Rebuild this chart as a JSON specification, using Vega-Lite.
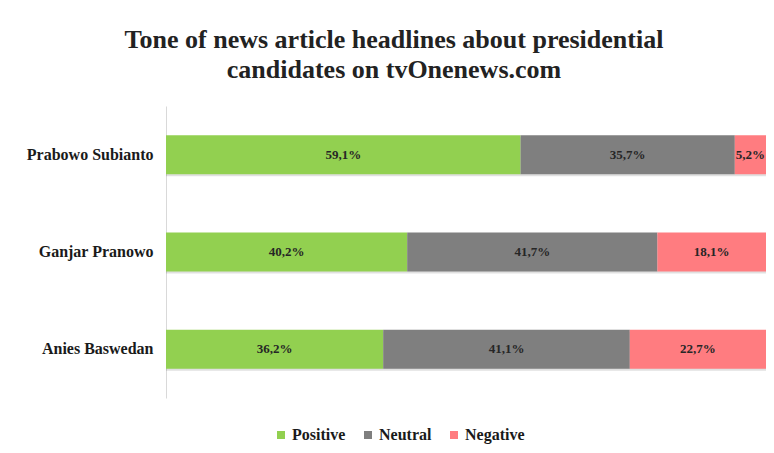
{
  "$schema": "https://vega.github.io/schema/vega-lite/v6.json",
  "width": 600,
  "height": 292,
  "autosize": {"type": "none"},
  "padding": {"left": 166, "top": 106, "right": 8, "bottom": 55},
  "background": "white",
  "config": {"view": {"stroke": null}, "font": "Liberation Serif"},
  "title": {
    "text": ["Tone of news article headlines about presidential", "candidates on tvOnenews.com"],
    "font": "Liberation Serif",
    "fontSize": 26,
    "fontWeight": "bold",
    "color": "#222222",
    "anchor": "middle",
    "dx": -72,
    "offset": 23,
    "lineHeight": 30
  },
  "data": {
    "values": [
      {"candidate": "Prabowo Subianto", "tone": "Positive", "value": 59.1, "label": "59,1%", "order": 1},
      {"candidate": "Prabowo Subianto", "tone": "Neutral", "value": 35.7, "label": "35,7%", "order": 2},
      {"candidate": "Prabowo Subianto", "tone": "Negative", "value": 5.2, "label": "5,2%", "order": 3},
      {"candidate": "Ganjar Pranowo", "tone": "Positive", "value": 40.2, "label": "40,2%", "order": 1},
      {"candidate": "Ganjar Pranowo", "tone": "Neutral", "value": 41.7, "label": "41,7%", "order": 2},
      {"candidate": "Ganjar Pranowo", "tone": "Negative", "value": 18.1, "label": "18,1%", "order": 3},
      {"candidate": "Anies Baswedan", "tone": "Positive", "value": 36.2, "label": "36,2%", "order": 1},
      {"candidate": "Anies Baswedan", "tone": "Neutral", "value": 41.1, "label": "41,1%", "order": 2},
      {"candidate": "Anies Baswedan", "tone": "Negative", "value": 22.7, "label": "22,7%", "order": 3}
    ]
  },
  "transform": [
    {"stack": "value", "groupby": ["candidate"], "sort": [{"field": "order"}], "as": ["x0", "x1"]},
    {"calculate": "(datum.x0 + datum.x1) / 2", "as": "mid"}
  ],
  "encoding": {
    "y": {
      "field": "candidate",
      "type": "nominal",
      "sort": ["Prabowo Subianto", "Ganjar Pranowo", "Anies Baswedan"],
      "scale": {"paddingInner": 0.6, "paddingOuter": 0.3},
      "axis": {
        "title": null,
        "ticks": false,
        "domainColor": "#d9d9d9",
        "domainWidth": 1,
        "labelFont": "Liberation Serif",
        "labelFontSize": 16,
        "labelFontWeight": "bold",
        "labelColor": "#1a1a1a",
        "labelPadding": 13,
        "grid": false
      }
    }
  },
  "layer": [
    {
      "mark": {"type": "bar", "color": "#000000", "opacity": 0.12, "yOffset": 2},
      "encoding": {
        "x": {"field": "x0", "type": "quantitative", "scale": {"domain": [0, 100], "nice": false}, "axis": null},
        "x2": {"field": "x1"}
      }
    },
    {
      "mark": {"type": "bar"},
      "encoding": {
        "x": {"field": "x0", "type": "quantitative", "scale": {"domain": [0, 100], "nice": false}, "axis": null},
        "x2": {"field": "x1"},
        "color": {
          "field": "tone",
          "type": "nominal",
          "scale": {"domain": ["Positive", "Neutral", "Negative"], "range": ["#92D050", "#7F7F7F", "#FF7C80"]},
          "legend": {
            "orient": "none",
            "legendX": 107,
            "legendY": 321,
            "direction": "horizontal",
            "title": null,
            "symbolType": "square",
            "symbolSize": 64,
            "symbolStrokeWidth": 0,
            "labelFont": "Liberation Serif",
            "labelFontSize": 16,
            "labelFontWeight": "bold",
            "labelColor": "#1a1a1a",
            "labelOffset": 3,
            "columnPadding": 14,
            "padding": 0
          }
        }
      }
    },
    {
      "mark": {"type": "text", "font": "Liberation Serif", "fontSize": 13, "fontWeight": "bold", "color": "#262626", "align": "center", "baseline": "middle"},
      "encoding": {
        "x": {"field": "mid", "type": "quantitative", "scale": {"domain": [0, 100], "nice": false}, "axis": null},
        "text": {"field": "label"}
      }
    }
  ]
}
